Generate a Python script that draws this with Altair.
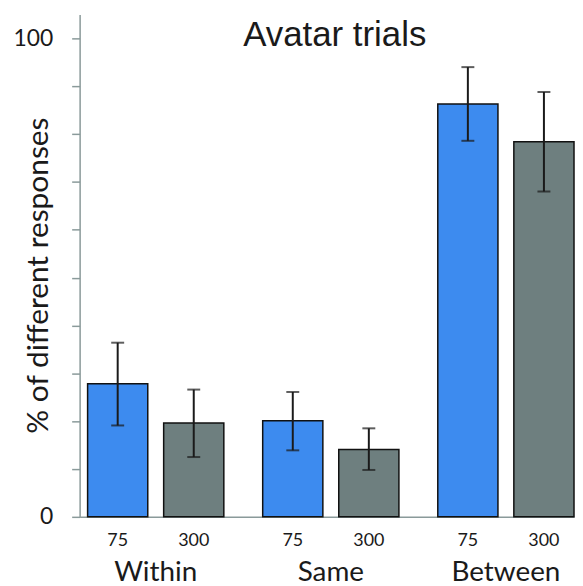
import altair as alt
import pandas as pd

groups = ["Within", "Within", "Same", "Same", "Between", "Between"]
delays = ["75", "300", "75", "300", "75", "300"]
values = [27.8, 19.6, 20.1, 14.1, 86.3, 78.4]
err_low = [19.1, 12.5, 13.9, 9.8, 78.6, 68.0]
err_high = [36.4, 26.6, 26.1, 18.5, 94.0, 88.8]

group_order = ["Within", "Same", "Between"]
delay_order = ["75", "300"]
bar_colors = ["#3d8bef", "#6e7f7f"]
y_tick_values = [0, 10, 20, 30, 40, 50, 60, 70, 80, 90, 100]
title_text = ["Avatar trials"]

df = pd.DataFrame({
    "group": groups,
    "delay": delays,
    "value": values,
    "lo": err_low,
    "hi": err_high,
})
title_df = pd.DataFrame({"title": title_text})

axis_color = "#8a9a9a"
text_color = "#1a1a1a"

x_enc = alt.X(
    "group:N",
    sort=group_order,
    scale=alt.Scale(domain=group_order, paddingInner=0.222, paddingOuter=0.0228, align=1),
    axis=alt.Axis(
        title=None,
        labelFont="Lato",
        labelFontSize=28,
        labelColor=text_color,
        labelPadding=42,
        labelAngle=0,
        ticks=False,
        domainColor=axis_color,
        domainWidth=1.5,
    ),
)
xo_enc = alt.XOffset(
    "delay:N",
    sort=delay_order,
    scale=alt.Scale(paddingInner=0.209, paddingOuter=0),
)
y_scale = alt.Scale(domain=[0, 105], nice=False)

bars = alt.Chart(df).mark_bar(stroke="#111111", strokeWidth=1.5).encode(
    x=x_enc,
    xOffset=xo_enc,
    y=alt.Y(
        "value:Q",
        scale=y_scale,
        axis=alt.Axis(
            values=y_tick_values,
            labelExpr="datum.value == 0 || datum.value == 100 ? datum.label : ''",
            grid=False,
            tickSize=8,
            tickColor=axis_color,
            tickWidth=1.5,
            domainColor=axis_color,
            domainWidth=1.5,
            labelFont="Lato",
            labelFontSize=23,
            labelColor=text_color,
            labelPadding=19,
            title="% of different responses",
            titleFont="Lato",
            titleFontSize=30,
            titleFontWeight="normal",
            titleColor=text_color,
            titleBaseline="middle",
            titleX=-41,
            titleY=262,
        ),
    ),
    color=alt.Color(
        "delay:N",
        sort=delay_order,
        scale=alt.Scale(domain=delay_order, range=bar_colors),
        legend=None,
    ),
)

rules = alt.Chart(df).mark_rule(color=text_color, strokeWidth=2).encode(
    x=x_enc, xOffset=xo_enc, y=alt.Y("lo:Q", scale=y_scale), y2="hi:Q"
)
caps_lo = alt.Chart(df).mark_tick(color=text_color, thickness=2, size=13).encode(
    x=x_enc, xOffset=xo_enc, y=alt.Y("lo:Q", scale=y_scale)
)
caps_hi = alt.Chart(df).mark_tick(color=text_color, thickness=2, size=13).encode(
    x=x_enc, xOffset=xo_enc, y=alt.Y("hi:Q", scale=y_scale)
)

delay_labels = alt.Chart(df).mark_text(
    font="Lato", fontSize=18, color=text_color, baseline="alphabetic", dy=29
).encode(
    x=x_enc, xOffset=xo_enc, y=alt.datum(0), text="delay:N"
)

title_mark = alt.Chart(title_df).mark_text(
    font="Liberation Sans", fontSize=35, color=text_color,
    baseline="alphabetic", align="center", dx=4, dy=32,
).encode(
    x=alt.X(datum="Same", scale=alt.Scale(domain=group_order)),
    y=alt.datum(105),
    text="title:N",
)

chart = alt.layer(bars, rules, caps_lo, caps_hi, delay_labels, title_mark).properties(
    width=497,
    height=505,
    padding={"left": 4, "top": 5, "right": 0, "bottom": 0},
).configure_view(stroke=None)

chart.save("out.html", embed_options={"renderer": "svg", "actions": False})
